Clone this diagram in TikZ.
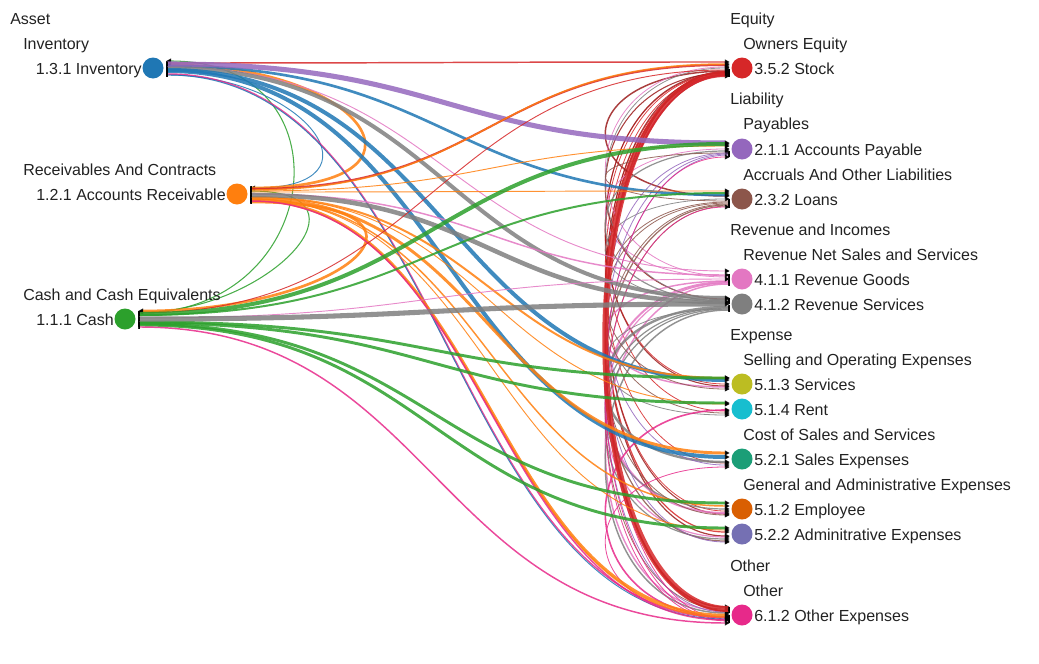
\documentclass[tikz,border=0pt]{standalone}
\usepackage{fontspec}
\setmainfont{Liberation Sans}
\usetikzlibrary{arrows.meta,calc}
\definecolor{cA}{HTML}{1F77B4}
\definecolor{cB}{HTML}{FF7F0E}
\definecolor{cC}{HTML}{2CA02C}
\definecolor{cD}{HTML}{D62728}
\definecolor{cE}{HTML}{9467BD}
\definecolor{cF}{HTML}{8C564B}
\definecolor{cG}{HTML}{E377C2}
\definecolor{cH}{HTML}{7F7F7F}
\definecolor{cI}{HTML}{BCBD22}
\definecolor{cJ}{HTML}{17BECF}
\definecolor{dA}{HTML}{1B9E77}
\definecolor{dB}{HTML}{D95F02}
\definecolor{dC}{HTML}{7570B3}
\definecolor{dD}{HTML}{E7298A}
\definecolor{dR}{HTML}{9B1C1C}
\definecolor{txt}{HTML}{222222}
\tikzset{
  flow/.style={draw opacity=0.85,{Rectangle[black,length=1.2pt,width=3pt]}-{Triangle[black,length=3.6pt,width=3.6pt]}},
  acct/.style={circle,inner sep=0pt,minimum size=15pt},
  lbl/.style={inner sep=0pt,text=txt,font=\fontsize{12}{14}\selectfont},
}
\newcommand\edgeLR[6]{\draw[flow,draw=#1,line width=#2pt] let \p1=($(#3P)+(0,#4)$), \p2=($(#5P)+(0,#6)$) in (\p1) .. controls ({(\x1+\x2)/2},\y1) and ({(\x1+\x2)/2},\y2) .. (\p2);}
\newcommand\edgeRR[6]{\draw[flow,draw=#1,line width=#2pt] let \p1=($(#3P)+(0,#4)$), \p2=($(#5P)+(0,#6)$) in (\p1) .. controls +(-165,0) and +(-165,0) .. (\p2);}
\newcommand\edgeLL[7]{\draw[flow,draw=#1,line width=#2pt] let \p1=($(#3P)+(0,#4)$), \p2=($(#5P)+(0,#6)$) in (\p1) .. controls +(#7,0) and +(#7,0) .. (\p2);}
\begin{document}
\begin{tikzpicture}[x=0.75pt,y=-0.75pt]
\useasboundingbox (0,0) rectangle (1039,664);
% account circles
\path (153,68) node[acct] (inv) {};
\path (237,194) node[acct] (ar) {};
\path (125,319) node[acct] (cash) {};
\path (742,68) node[acct] (stock) {};
\path (742,149) node[acct] (ap) {};
\path (742,199) node[acct] (loans) {};
\path (742,279) node[acct] (rg) {};
\path (742,304) node[acct] (rs) {};
\path (742,384) node[acct] (sv) {};
\path (742,409) node[acct] (rent) {};
\path (742,459) node[acct] (se) {};
\path (742,509) node[acct] (emp) {};
\path (742,534) node[acct] (adm) {};
\path (742,615) node[acct] (oe) {};
% ports
\foreach \n in {inv,ar,cash} {\coordinate (\n P) at ($(\n.east)+(3,0)$);}
\foreach \n in {stock,ap,loans,rg,rs,sv,rent,se,emp,adm,oe} {\coordinate (\n P) at ($(\n.west)+(-2,0)$);}
% right-to-right loops
\edgeRR{cD}{0.6}{stock}{5}{sv}{0}
\edgeRR{cD}{0.6}{stock}{5}{rent}{2}
\edgeRR{cD}{0.6}{stock}{6}{emp}{2}
\edgeRR{cD}{0.6}{stock}{6}{se}{4}
\edgeRR{dR}{0.9}{stock}{7}{adm}{2}
\edgeRR{dR}{1.1}{stock}{7}{oe}{-8}
\edgeRR{dR}{0.8}{stock}{4}{sv}{2}
\edgeRR{dR}{0.8}{stock}{4}{emp}{5}
\edgeRR{cD}{0.9}{stock}{6}{adm}{-2}
\edgeRR{dR}{0.8}{stock}{5}{rs}{-5}
\edgeRR{dR}{1.1}{stock}{3}{loans}{-3}
\edgeRR{cG}{0.6}{rg}{-3}{stock}{-1}
\edgeRR{cG}{0.6}{rg}{-2}{ap}{0}
\edgeRR{cG}{1.1}{rg}{2}{sv}{3}
\edgeRR{cG}{1.5}{rg}{3}{emp}{4}
\edgeRR{cG}{0.9}{rg}{4}{adm}{3}
\edgeRR{cG}{1.1}{rg}{5}{oe}{-4}
\edgeRR{cH}{0.6}{rs}{-4}{stock}{0}
\edgeRR{cH}{0.9}{rs}{-3}{ap}{2}
\edgeRR{cH}{0.6}{rs}{-2}{loans}{0}
\edgeRR{cH}{1.8}{rs}{3}{se}{3}
\edgeRR{cH}{0.9}{rs}{4}{emp}{0}
\edgeRR{cH}{0.9}{rs}{5}{adm}{5}
\edgeRR{cH}{1.1}{rs}{6}{oe}{-2}
\edgeRR{cH}{0.6}{rs}{5}{rent}{6}
\edgeRR{cF}{0.6}{loans}{2}{ap}{4}
\edgeRR{cF}{0.6}{loans}{3}{sv}{5}
\edgeRR{cF}{0.6}{loans}{4}{rent}{4}
\edgeRR{cF}{0.6}{loans}{5}{emp}{6}
\edgeRR{cF}{0.9}{loans}{6}{adm}{7}
\edgeRR{cF}{0.6}{loans}{7}{oe}{-6}
\edgeRR{cE}{0.6}{ap}{4}{se}{6}
\edgeRR{cE}{0.6}{ap}{5}{adm}{8}
\edgeRR{cE}{0.6}{ap}{6}{oe}{-3}
\edgeRR{dD}{0.6}{oe}{4}{stock}{8}
\edgeRR{dD}{0.6}{oe}{5}{ap}{8}
\edgeRR{dD}{0.6}{oe}{6}{loans}{8}
\edgeRR{dD}{1.2}{oe}{2}{rent}{1}
\edgeRR{dD}{0.6}{oe}{3}{se}{8}
\edgeRR{dR}{1.1}{oe}{-4}{stock}{4}
\edgeRR{cD}{4.5}{oe}{-6}{stock}{6}
% left-to-left loops
\edgeLL{cC}{0.8}{cash}{-6}{inv}{-7}{187}
\edgeLL{cA}{0.7}{inv}{7}{ar}{-6}{139}
\edgeLL{cB}{2.0}{ar}{-6}{inv}{-3}{200}
\edgeLL{cC}{0.8}{ar}{-3}{cash}{-7}{131}
\edgeLL{cB}{2.0}{ar}{8}{cash}{-8}{215}
% inventory out
\edgeLR{cD}{1.1}{inv}{-5}{stock}{-6}
\edgeLR{cG}{0.7}{inv}{-1}{rg}{-8}
\edgeLR{cA}{2.0}{inv}{-2}{loans}{-4}
\edgeLR{cH}{3.0}{inv}{0}{rs}{-6}
\edgeLR{cA}{3.0}{inv}{2}{sv}{-4}
\edgeLR{cA}{3.0}{inv}{3}{se}{-2}
\edgeLR{dD}{1.1}{inv}{6}{oe}{2}
\edgeLR{cA}{0.7}{inv}{7}{oe}{4}
\edgeLR{cE}{3.8}{inv}{-4}{ap}{-6}
% receivable out
\edgeLR{cD}{1.5}{ar}{-5}{stock}{-3}
\edgeLR{cB}{1.1}{ar}{-4}{stock}{-4}
\edgeLR{cB}{0.7}{ar}{-3}{ap}{-3}
\edgeLR{cB}{0.7}{ar}{-2}{loans}{-8}
\edgeLR{cG}{1.1}{ar}{0}{rg}{-4}
\edgeLR{cB}{1.5}{ar}{3}{sv}{-6}
\edgeLR{cB}{0.7}{ar}{3}{rent}{-5}
\edgeLR{cB}{2.2}{ar}{4}{se}{-6}
\edgeLR{cB}{1.1}{ar}{5}{emp}{-3}
\edgeLR{cB}{0.7}{ar}{5}{adm}{-4}
\edgeLR{cB}{1.9}{ar}{6}{oe}{0}
\edgeLR{cB}{1.1}{ar}{7}{oe}{2}
\edgeLR{dD}{1.1}{ar}{7}{oe}{5}
\edgeLR{cH}{3.4}{ar}{1}{rs}{-2}
% cash out
\edgeLR{cD}{0.7}{cash}{-6}{stock}{2}
\edgeLR{cC}{1.5}{cash}{-4}{loans}{-6}
\edgeLR{cG}{0.7}{cash}{-1}{rg}{0}
\edgeLR{cC}{2.2}{cash}{3}{sv}{-6}
\edgeLR{cC}{2.2}{cash}{4}{rent}{-6}
\edgeLR{cC}{2.2}{cash}{5}{emp}{-6}
\edgeLR{cC}{2.2}{cash}{6}{adm}{-6}
\edgeLR{dD}{1.1}{cash}{8}{oe}{8}
\edgeLR{cC}{3.0}{cash}{-5}{ap}{-5}
\edgeLR{cH}{3.8}{cash}{0}{rs}{0}
% circles on top
\fill[cA] (inv) circle (10.5);
\fill[cB] (ar) circle (10.5);
\fill[cC] (cash) circle (10.5);
\fill[cD] (stock) circle (10.5);
\fill[cE] (ap) circle (10.5);
\fill[cF] (loans) circle (10.5);
\fill[cG] (rg) circle (10.5);
\fill[cH] (rs) circle (10.5);
\fill[cI] (sv) circle (10.5);
\fill[cJ] (rent) circle (10.5);
\fill[dA] (se) circle (10.5);
\fill[dB] (emp) circle (10.5);
\fill[dC] (adm) circle (10.5);
\fill[dD] (oe) circle (10.5);
% headers
\node[lbl,anchor=base west] (hAsset) at (10,24) {Asset};
\node[lbl,anchor=base west] (hInv) at (23,49) {Inventory};
\node[lbl,anchor=base west] (hRec) at (23,175) {Receivables And Contracts};
\node[lbl,anchor=base west] (hCash) at (23,300) {Cash and Cash Equivalents};
\node[lbl,anchor=base west] (hEq) at (730,24) {Equity};
\node[lbl,anchor=base west] (hOE) at (743,49) {Owners Equity};
\node[lbl,anchor=base west] (hLia) at (730,104) {Liability};
\node[lbl,anchor=base west] (hPay) at (743,129) {Payables};
\node[lbl,anchor=base west] (hAcc) at (743,180) {Accruals And Other Liabilities};
\node[lbl,anchor=base west] (hRev) at (730,235) {Revenue and Incomes};
\node[lbl,anchor=base west] (hRNS) at (743,260) {Revenue Net Sales and Services};
\node[lbl,anchor=base west] (hExp) at (730,340) {Expense};
\node[lbl,anchor=base west] (hSO) at (743,365) {Selling and Operating Expenses};
\node[lbl,anchor=base west] (hCS) at (743,440) {Cost of Sales and Services};
\node[lbl,anchor=base west] (hGA) at (743,490) {General and Administrative Expenses};
\node[lbl,anchor=base west] (hOth) at (730,571) {Other};
\node[lbl,anchor=base west] (hOth2) at (743,596) {Other};
% account labels
\node[lbl,anchor=base east] (tInv) at (142,74) {1.3.1 Inventory};
\node[lbl,anchor=base east] (tAr) at (226,200) {1.2.1 Accounts Receivable};
\node[lbl,anchor=base east] (tCash) at (114,325) {1.1.1 Cash};
\node[lbl,anchor=base west] (tStock) at (754,74) {3.5.2 Stock};
\node[lbl,anchor=base west] (tAp) at (754,155) {2.1.1 Accounts Payable};
\node[lbl,anchor=base west] (tLoans) at (754,205) {2.3.2 Loans};
\node[lbl,anchor=base west] (tRg) at (754,285) {4.1.1 Revenue Goods};
\node[lbl,anchor=base west] (tRs) at (754,310) {4.1.2 Revenue Services};
\node[lbl,anchor=base west] (tSv) at (754,390) {5.1.3 Services};
\node[lbl,anchor=base west] (tRent) at (754,415) {5.1.4 Rent};
\node[lbl,anchor=base west] (tSe) at (754,465) {5.2.1 Sales Expenses};
\node[lbl,anchor=base west] (tEmp) at (754,515) {5.1.2 Employee};
\node[lbl,anchor=base west] (tAdm) at (754,540) {5.2.2 Adminitrative Expenses};
\node[lbl,anchor=base west] (tOe) at (754,621) {6.1.2 Other Expenses};
\end{tikzpicture}
\end{document}
